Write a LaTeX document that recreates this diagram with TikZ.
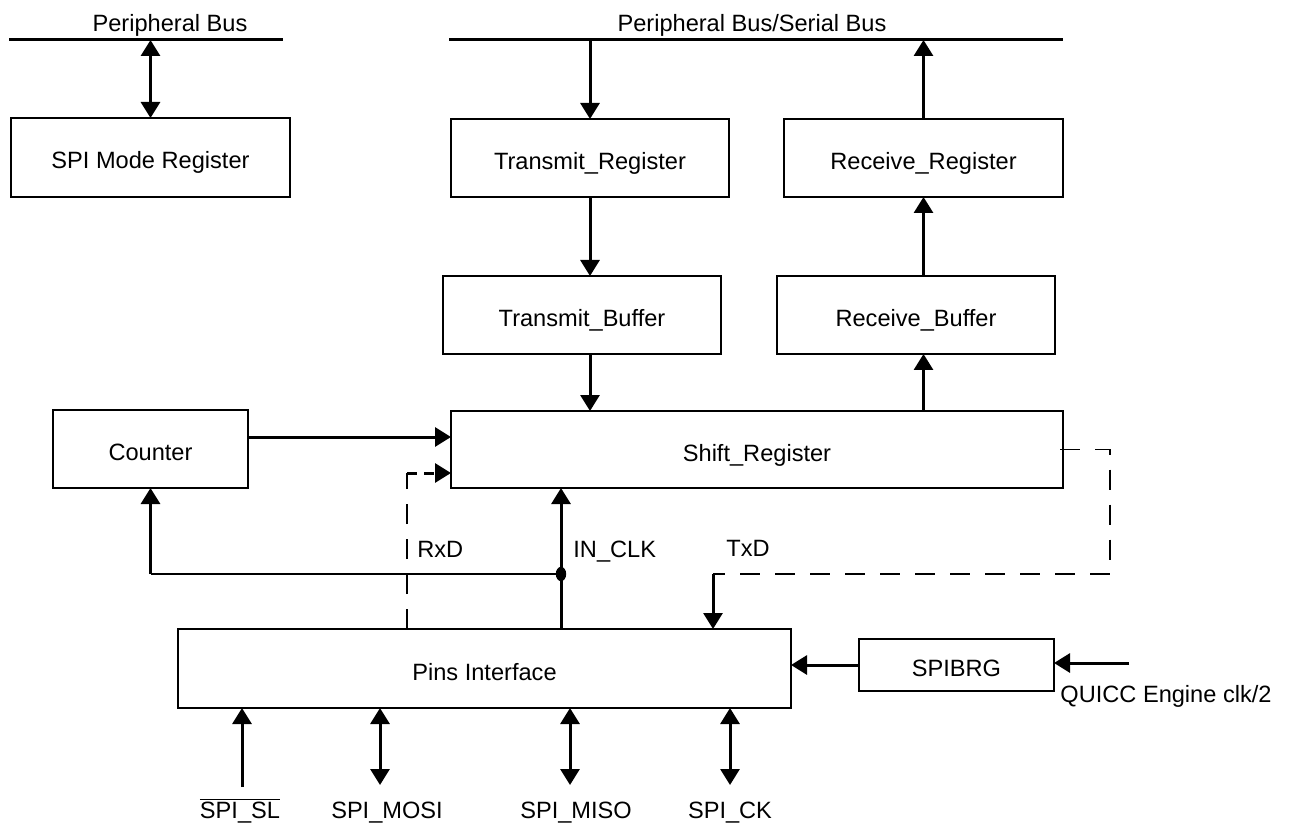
\documentclass[tikz,border=0pt]{standalone}
\usepackage{fontspec}
\setmainfont{Liberation Sans}
\usetikzlibrary{arrows.meta,calc}
\begin{document}
\begin{tikzpicture}[x=0.5pt,y=-0.5pt,
  every node/.style={font=\fontsize{11.8pt}{14pt}\selectfont},
  blk/.style={draw,line width=1pt,inner sep=0pt,outer sep=0pt,text height=11.5pt,text depth=0pt},
  lbl/.style={inner sep=0pt,text height=8.5pt,text depth=0pt},
  bus/.style={line width=1.5pt},
  conn/.style={line width=1.5pt,-{Triangle[length=8pt,width=9.5pt]}},
  dconn/.style={line width=1.5pt,{Triangle[length=8pt,width=9.5pt]}-{Triangle[length=8pt,width=9.5pt]}},
  thin/.style={line width=0.75pt},
  dsh/.style={line width=0.6pt,dash pattern=on 10pt off 7.5pt}
]
\useasboundingbox (0,0) rectangle (1289,823);

% buses
\coordinate (lb1) at (9,40);
\coordinate (lb2) at (283,40);
\coordinate (rb1) at (449,40);
\coordinate (rb2) at (1063,40);
\draw[bus] (lb1) -- (lb2);
\draw[bus] (rb1) -- (rb2);
\node[lbl] (tpb) at (170,23) {Peripheral Bus};
\node[lbl] (tpsb) at (752,23) {Peripheral Bus/Serial Bus};

% blocks
\node[blk,minimum width=139.5pt,minimum height=39.5pt] (SMR) at (150.5,157.5) {SPI Mode Register};
\node[blk,minimum width=139pt,minimum height=39pt] (TR) at (590,158) {Transmit\_Register};
\node[blk,minimum width=139.5pt,minimum height=39pt] (RR) at (923.5,158) {Receive\_Register};
\node[blk,minimum width=139pt,minimum height=39pt] (TB) at (582,315) {Transmit\_Buffer};
\node[blk,minimum width=139pt,minimum height=39pt] (RB) at (916,315) {Receive\_Buffer};
\node[blk,minimum width=97.5pt,minimum height=39pt] (CNT) at (150.5,449) {Counter};
\node[blk,minimum width=306pt,minimum height=38.5pt] (SR) at (757,449.5) {Shift\_Register};
\node[blk,minimum width=306.5pt,minimum height=39.5pt] (PI) at (484.5,668.5) {Pins Interface};
\node[blk,minimum width=97.5pt,minimum height=26pt] (BRG) at (956.5,665) {SPIBRG};

% top connections
\draw[dconn] (SMR.north |- lb1) -- (SMR.north);
\draw[conn] (TR.north |- rb1) -- (TR.north);
\draw[conn] (TR.south) -- (TR.south |- TB.north);
\draw[conn] (TR.south |- TB.south) -- (TR.south |- SR.north);
\draw[conn] (RR.south |- SR.north) -- (RR.south |- RB.south);
\draw[conn] (RR.south |- RB.north) -- (RR.south);
\draw[conn] (RR.north) -- (RR.north |- rb2);

% counter
\draw[conn] ([yshift=6pt]CNT.east) -- ([yshift=6pt]CNT.east -| SR.west);

% clock
\coordinate (dot) at (561,574);
\draw[conn] (PI.north -| dot) -- (SR.south -| dot);
\fill (dot) ellipse [x radius=2.6pt, y radius=3.6pt];
\draw[thin] (dot) -- (dot -| CNT.south);
\draw[conn] (dot -| CNT.south) -- (CNT.south);
\node[lbl,anchor=west] (tclk) at (573,549) {IN\_CLK};

% RxD
\coordinate (rxd) at (407,473);
\draw[dsh] (PI.north -| rxd) -- (rxd);
\draw[line width=1.5pt,dash pattern=on 5pt off 3.5pt,-{Triangle[length=8pt,width=9.5pt]}] (rxd) -- (rxd -| SR.west);
\node[lbl,anchor=west] (trxd) at (417,549) {RxD};

% TxD
\coordinate (txc) at (1110,574);
\coordinate (txd) at (713,574);
\draw[dsh] ([xshift=-1.5pt]SR.east) -- (SR.east -| txc) -- (txc) -- (txd);
\draw[conn] (txd) -- (txd |- PI.north);
\node[lbl,anchor=west] (ttxd) at (726,548) {TxD};

% BRG
\coordinate (qin) at (1129,663);
\draw[conn] (BRG.west) -- (BRG.west -| PI.east);
\draw[conn] (qin) -- (qin -| BRG.east);
\node[lbl] (tq) at (1166,694) {QUICC Engine clk/2};

% bottom pins
\coordinate (psl) at (242,787);
\coordinate (pmosi) at (380,785);
\coordinate (pmiso) at (570,785);
\coordinate (pck) at (730,785);
\draw[conn] (psl) -- (psl |- PI.south);
\draw[dconn] (pmosi) -- (pmosi |- PI.south);
\draw[dconn] (pmiso) -- (pmiso |- PI.south);
\draw[dconn] (pck) -- (pck |- PI.south);
\node[lbl] (tsl) at (240,810) {$\overline{\mbox{SPI\_SL}}$};
\node[lbl] (tmosi) at (387,810) {SPI\_MOSI};
\node[lbl] (tmiso) at (576,810) {SPI\_MISO};
\node[lbl] (tck) at (730,810) {SPI\_CK};
\end{tikzpicture}
\end{document}
